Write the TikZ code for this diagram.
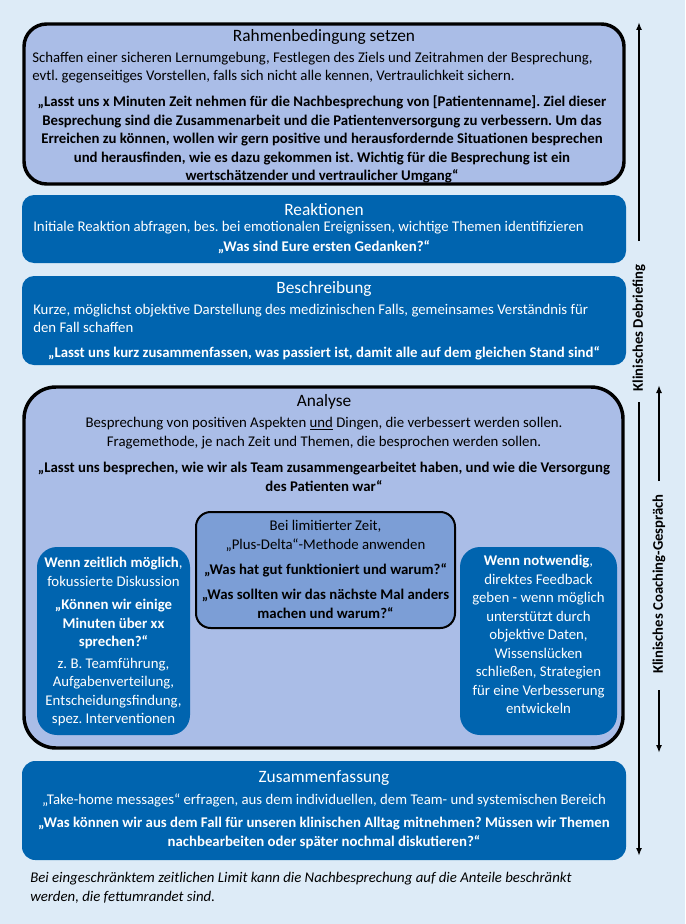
\documentclass[tikz,border=0pt]{standalone}
\usepackage{fontspec}
\setmainfont{Carlito}
\usetikzlibrary{arrows.meta}
\definecolor{bg}{HTML}{DDEBF7}
\definecolor{lightbox}{HTML}{AABDE7}
\definecolor{darkbox}{HTML}{0064AF}
\definecolor{midbox}{HTML}{7C9ED6}
\frenchspacing
\begin{document}
\begin{tikzpicture}[x=0.75pt,y=-0.75pt,
  boxbase/.style={inner sep=0pt,outer sep=0pt},
  lightframe/.style={boxbase,fill=lightbox,draw=black,line width=2.6pt},
  darkframe/.style={boxbase,fill=darkbox},
  midframe/.style={boxbase,fill=midbox,draw=black,line width=1.5pt},
  ttl/.style={inner sep=0pt,font=\fontsize{13}{16}\selectfont},
  txt/.style={inner sep=0pt,font=\fontsize{11.1}{13.9}\selectfont},
  btxt/.style={inner sep=0pt,font=\fontsize{11.1}{13.9}\selectfont\bfseries},
  wt/.style={text=white},
  sidelabel/.style={inner sep=0pt,font=\fontsize{11}{13}\selectfont\bfseries,rotate=90},
  arr/.style={line width=1.5pt,-{Latex[length=6pt,width=4.5pt]}},
  seg/.style={line width=1.5pt}
]
\fill[bg] (0,0) rectangle (685,924);
\useasboundingbox (0,0) rectangle (685,924);

% Rahmenbedingung
\node[lightframe,rounded corners=17pt,minimum width=600*0.75pt,minimum height=160*0.75pt] (rahmen) at (324,104) {};
\node[ttl] (rahmenT) at (324,37) {Rahmenbedingung setzen};
\node[txt,anchor=west,align=left] (rahmenB) at (32,67.5) {Schaffen einer sicheren Lernumgebung, Festlegen des Ziels und Zeitrahmen der Besprechung,\\evtl. gegenseitiges Vorstellen, falls sich nicht alle kennen, Vertraulichkeit sichern.};
\node[btxt,align=center] (rahmenQ) at (322,139.5) {„Lasst uns x Minuten Zeit nehmen für die Nachbesprechung von [Patientenname]. Ziel dieser\\Besprechung sind die Zusammenarbeit und die Patientenversorgung zu verbessern. Um das\\Erreichen zu können, wollen wir gern positive und herausfordernde Situationen besprechen\\und herausfinden, wie es dazu gekommen ist. Wichtig für die Besprechung ist ein\\wertschätzender und vertraulicher Umgang“};

% Reaktionen
\node[darkframe,rounded corners=9pt,minimum width=604*0.75pt,minimum height=68*0.75pt] (reak) at (324,229) {};
\node[ttl,wt] (reakT) at (324,210) {Reaktionen};
\node[txt,wt,anchor=west] (reakB) at (33,228) {Initiale Reaktion abfragen, bes. bei emotionalen Ereignissen, wichtige Themen identifizieren};
\node[btxt,wt] (reakQ) at (324,247) {„Was sind Eure ersten Gedanken?“};

% Beschreibung
\node[darkframe,rounded corners=9pt,minimum width=604*0.75pt,minimum height=89*0.75pt] (besch) at (324,320.5) {};
\node[ttl,wt] (beschT) at (324,289) {Beschreibung};
\node[txt,wt,anchor=west,align=left] (beschB) at (33,318.5) {Kurze, möglichst objektive Darstellung des medizinischen Falls, gemeinsames Verständnis für\\den Fall schaffen};
\node[btxt,wt] (beschQ) at (324,353) {„Lasst uns kurz zusammenfassen, was passiert ist, damit alle auf dem gleichen Stand sind“};

% Analyse
\node[lightframe,rounded corners=24pt,minimum width=599*0.75pt,minimum height=361*0.75pt] (ana) at (323.5,567.5) {};
\node[ttl] (anaT) at (324,402) {Analyse};
\node[txt,align=center] (anaB) at (324,433) {Besprechung von positiven Aspekten \underline{und} Dingen, die verbessert werden sollen.\\Fragemethode, je nach Zeit und Themen, die besprochen werden sollen.};
\node[btxt,align=center] (anaQ) at (324,477) {„Lasst uns besprechen, wie wir als Team zusammengearbeitet haben, und wie die Versorgung\\des Patienten war“};

% Plus-Delta box
\node[midframe,rounded corners=11pt,minimum width=259*0.75pt,minimum height=116*0.75pt] (plus) at (325.5,570) {};
\node[txt,align=center] (plusB) at (325.5,536) {Bei limitierter Zeit,\\„Plus-Delta“-Methode anwenden};
\node[btxt] (plusQ1) at (325.5,570) {„Was hat gut funktioniert und warum?“};
\node[btxt,align=center] (plusQ2) at (325.5,604) {„Was sollten wir das nächste Mal anders\\machen und warum?“};

% left box
\node[darkframe,rounded corners=15pt,minimum width=153*0.75pt,minimum height=188*0.75pt] (left) at (113.5,641) {};
\node[txt,wt,align=center] (leftA) at (113.5,572) {\textbf{Wenn zeitlich möglich},\\fokussierte Diskussion};
\node[btxt,wt,align=center] (leftQ) at (113.5,624) {„Können wir einige\\Minuten über xx\\sprechen?“};
\node[txt,wt,align=center] (leftB) at (113.5,692) {z. B. Teamführung,\\Aufgabenverteilung,\\Entscheidungsfindung,\\spez. Interventionen};

% right box
\node[darkframe,rounded corners=15pt,minimum width=157*0.75pt,minimum height=188*0.75pt] (right) at (538.5,641) {};
\node[txt,wt,align=center] (rightA) at (538.5,634.5) {\textbf{Wenn notwendig},\\direktes Feedback\\geben - wenn möglich\\unterstützt durch\\objektive Daten,\\Wissenslücken\\schließen, Strategien\\für eine Verbesserung\\entwickeln};

% Zusammenfassung
\node[darkframe,rounded corners=10pt,minimum width=604*0.75pt,minimum height=99*0.75pt] (zus) at (324,810.5) {};
\node[ttl,wt] (zusT) at (324,778) {Zusammenfassung};
\node[txt,wt] (zusB) at (324,800) {„Take-home messages“ erfragen, aus dem individuellen, dem Team- und systemischen Bereich};
\node[btxt,wt,align=center] (zusQ) at (324,833) {„Was können wir aus dem Fall für unseren klinischen Alltag mitnehmen? Müssen wir Themen\\nachbearbeiten oder später nochmal diskutieren?“};

% footnote
\node[txt,anchor=west,align=left,font=\fontsize{11.1}{13.9}\selectfont\itshape] (foot) at (30,888) {Bei eingeschränktem zeitlichen Limit kann die Nachbesprechung auf die Anteile beschränkt\\werden, die fettumrandet sind.};

% side arrows
\node[sidelabel] (deb) at (639,328) {Klinisches Debriefing};
\coordinate (debTopEnd) at (639,22);
\coordinate (debTopStart) at (639,241);
\coordinate (debBotStart) at (639,402);
\coordinate (debBotEnd) at (639,856);
\draw[arr] (debTopStart) -- (debTopEnd);
\draw[arr] (debBotStart) -- (debBotEnd);

\node[sidelabel] (coach) at (659,584) {Klinisches Coaching-Gespräch};
\coordinate (coTopEnd) at (659,385);
\coordinate (coTopStart) at (659,481);
\coordinate (coBotStart) at (659,690);
\coordinate (coBotEnd) at (659,753);
\draw[arr] (coTopStart) -- (coTopEnd);
\draw[arr] (coBotStart) -- (coBotEnd);
\end{tikzpicture}
\end{document}
